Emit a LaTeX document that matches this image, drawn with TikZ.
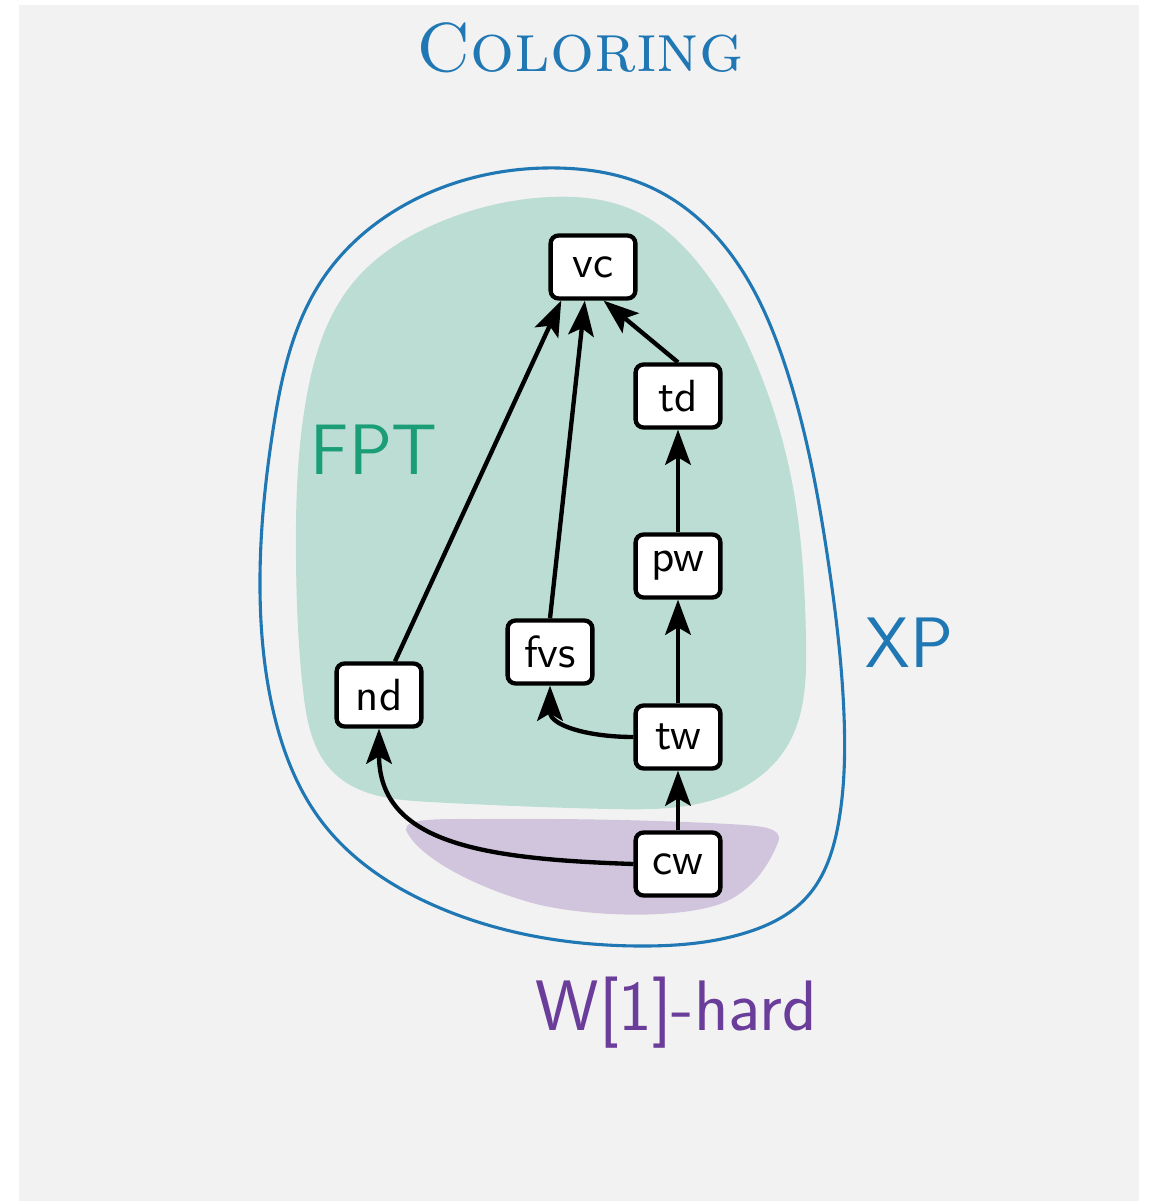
\documentclass[tikz,border=0pt]{standalone}
\usetikzlibrary{arrows.meta,hobby}
\definecolor{xpblue}{HTML}{1F77B4}
\definecolor{fptgreen}{HTML}{1B9E77}
\definecolor{hardpurple}{HTML}{6A3D9A}
\definecolor{canvasgray}{HTML}{F2F2F2}
\begin{document}
\begin{tikzpicture}[x=0.0085cm,y=-0.0085cm,
  param/.style={draw,line width=1.05pt,fill=white,rounded corners=1.9pt,
    minimum width=0.72cm,minimum height=0.535cm,inner sep=0pt,
    font=\sffamily\fontsize{10.9}{13}\selectfont},
  reduction/.style={line width=1.05pt,-{Stealth[length=8.5pt,width=6.2pt,inset=1.8pt]}},
  classlabel/.style={font=\sffamily\LARGE,anchor=base west,inner sep=0pt}]
\useasboundingbox (0,0) rectangle (1150,1201);
\fill[canvasgray] (19,5) rectangle (1139,1201);

% FPT region
\fill[fptgreen!25!canvasgray,use Hobby shortcut,closed=true]
  (550,197) .. (440,222) .. (352,284) .. (306,400) .. (296,560)
  .. (303,690) .. (333,772) .. (430,802) .. (610,809) .. (722,797)
  .. (786,748) .. (806,640) .. (792,482) .. (758,368) .. (702,268)
  .. (633,210);

% W[1]-hard region
\fill[hardpurple!25!canvasgray]
  (406,830) .. controls (404,818) and (440,819) .. (480,819)
  .. controls (600,818) and (700,822) .. (745,825)
  .. controls (772,827) and (784,831) .. (777,845)
  .. controls (768,866) and (752,892) .. (720,904)
  .. controls (680,918) and (600,918) .. (540,905)
  .. controls (480,890) and (418,858) .. (406,830) -- cycle;

% XP region
\draw[xpblue,line width=0.75pt,use Hobby shortcut,closed=true]
  (558,168) .. (420,197) .. (322,280) .. (273,430) .. (260,590)
  .. (273,710) .. (322,822) .. (440,908) .. (640,946) .. (745,933)
  .. (806,898) .. (839,820) .. (844,715) .. (828,560) .. (785,365)
  .. (722,243) .. (650,187);

% parameters
\node[param] (vc)  at (593,267) {vc};
\node[param] (td)  at (678,396) {td};
\node[param] (pw)  at (678,566) {pw};
\node[param] (fvs) at (550,652) {fvs};
\node[param] (nd)  at (379,695) {nd};
\node[param] (tw)  at (678,737) {tw};
\node[param] (cw)  at (678,864) {cw};

% reductions
\draw[reduction] ([xshift=0.136cm]nd.north) -- ([xshift=-0.27cm]vc.south);
\draw[reduction] (fvs.north) -- ([xshift=-0.07cm]vc.south);
\draw[reduction] (td.north) -- ([xshift=0.09cm]vc.south);
\draw[reduction] (pw) -- (td);
\draw[reduction] (tw) -- (pw);
\draw[reduction] (cw) -- (tw);
\draw[reduction] (tw.west) .. controls +(-45,0) and +(0,40) .. (fvs.south);
\draw[reduction] (cw.west) .. controls +(-150,-5) and +(0,115) .. (nd.south);

% labels
\node[font=\fontsize{16.75}{20}\selectfont,text=xpblue,anchor=base,inner sep=0pt]
  (title) at (580,72) {\textsc{Coloring}};
\node[classlabel,text=fptgreen] (fptlabel) at (310,475) {FPT};
\node[classlabel,text=xpblue] (xplabel) at (865,667) {XP};
\node[classlabel,text=hardpurple] (hardlabel) at (535,1030) {W[1]-hard};
\end{tikzpicture}
\end{document}
